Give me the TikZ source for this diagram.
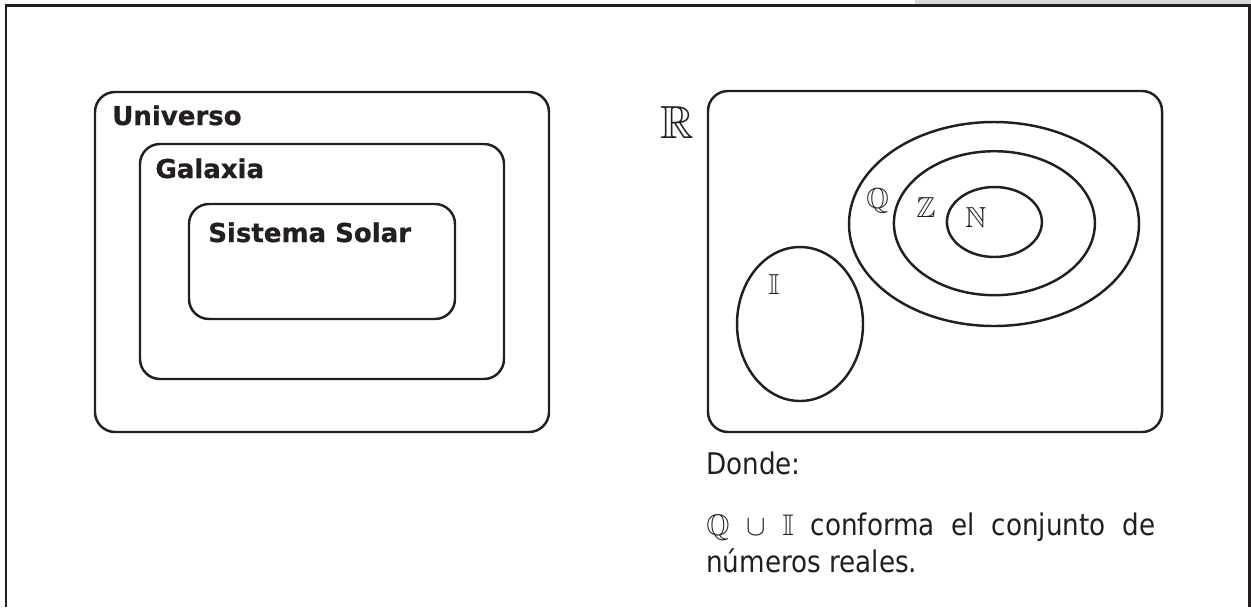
\documentclass[tikz,border=0pt]{standalone}
\usepackage{amssymb}
\usepackage{fontspec}
\usetikzlibrary{shapes.geometric}

\newfontfamily\labelfont{DejaVu Sans}[BoldFeatures={FakeBold=0.8}]
\newfontfamily\notefont{DejaVu Sans}[FakeStretch=0.88]
% blackboard letters at any size
\DeclareFontFamily{U}{msb}{}
\DeclareFontShape{U}{msb}{m}{n}{<-> msbm10}{}
\definecolor{ink}{HTML}{231F20}

\begin{document}
\begin{tikzpicture}[
  setbox/.style={rectangle, draw=ink, line width=1.75pt, rounded corners=0.5cm},
  setoval/.style={ellipse, draw=ink, line width=1.75pt, inner sep=0pt},
  boxlabel/.style={anchor=base west, inner sep=0pt, text=ink, font=\labelfont\bfseries\fontsize{18.5}{22}\selectfont},
  numset/.style={anchor=base west, inner sep=0pt, text=ink, font=\fontsize{20.6}{24}\selectfont},
  note/.style={anchor=base west, inner sep=0pt, text=ink, font=\notefont\fontsize{21.2}{27}\selectfont}
]

% Page and frame
\useasboundingbox (0,0) rectangle (31.275,-15.175);
\fill[black!15] (22.875,0) rectangle (31.275,-0.11);
\draw[ink, line width=2pt] (0.15,-15.175) -- (0.15,-0.1375) -- (31.24,-0.1375) -- (31.24,-15.175);

% Left: nested boxes
\node[setbox, minimum width=11.35cm, minimum height=8.5cm] (universo) at (8.05,-6.55) {};
\node[setbox, minimum width=9.1cm, minimum height=5.875cm] (galaxia) at (8.05,-6.5375) {};
\node[setbox, minimum width=6.65cm, minimum height=2.875cm] (solar) at (8.05,-6.5375) {};

\node[boxlabel] (universo-lbl) at (2.8,-3.125) {Universo};
\node[boxlabel] (galaxia-lbl) at (3.88,-4.45) {Galaxia};
\node[boxlabel] (solar-lbl) at (5.2,-6.05) {Sistema Solar};

% Right: number sets
\node[setbox, minimum width=11.35cm, minimum height=8.525cm] (reales) at (23.375,-6.5375) {};
\node[setoval, minimum width=7.25cm, minimum height=5.1cm] (racionales) at (24.85,-5.6) {};
\node[setoval, minimum width=5.025cm, minimum height=3.6cm] (enteros) at (24.86,-5.58) {};
\node[setoval, minimum width=2.375cm, minimum height=1.75cm] (naturales) at (24.86,-5.55) {};
\node[setoval, minimum width=3.15cm, minimum height=3.85cm] (irracionales) at (20,-8.1) {};

\node[numset, font=\fontsize{33}{36}\selectfont] (reales-lbl) at (16.5,-3.45) {$\mathbb{R}$};
\node[numset] (racionales-lbl) at (21.65,-5.2) {$\mathbb{Q}$};
\node[numset] (enteros-lbl) at (22.9,-5.425) {$\mathbb{Z}$};
\node[numset] (naturales-lbl) at (24.125,-5.675) {$\mathbb{N}$};
\node[numset] (irracionales-lbl) at (19.2,-7.35) {$\mathbb{I}$};

% Note below
\node[note] (donde) at (17.65,-11.85) {Donde:};
\node[note, text width=11.225cm, align=justify] (union) at (17.65,-13.375)
  {\hyphenpenalty=10000 $\mathbb{Q}$ $\cup$ $\mathbb{I}$ conforma el conjunto de números reales.};

\end{tikzpicture}
\end{document}
